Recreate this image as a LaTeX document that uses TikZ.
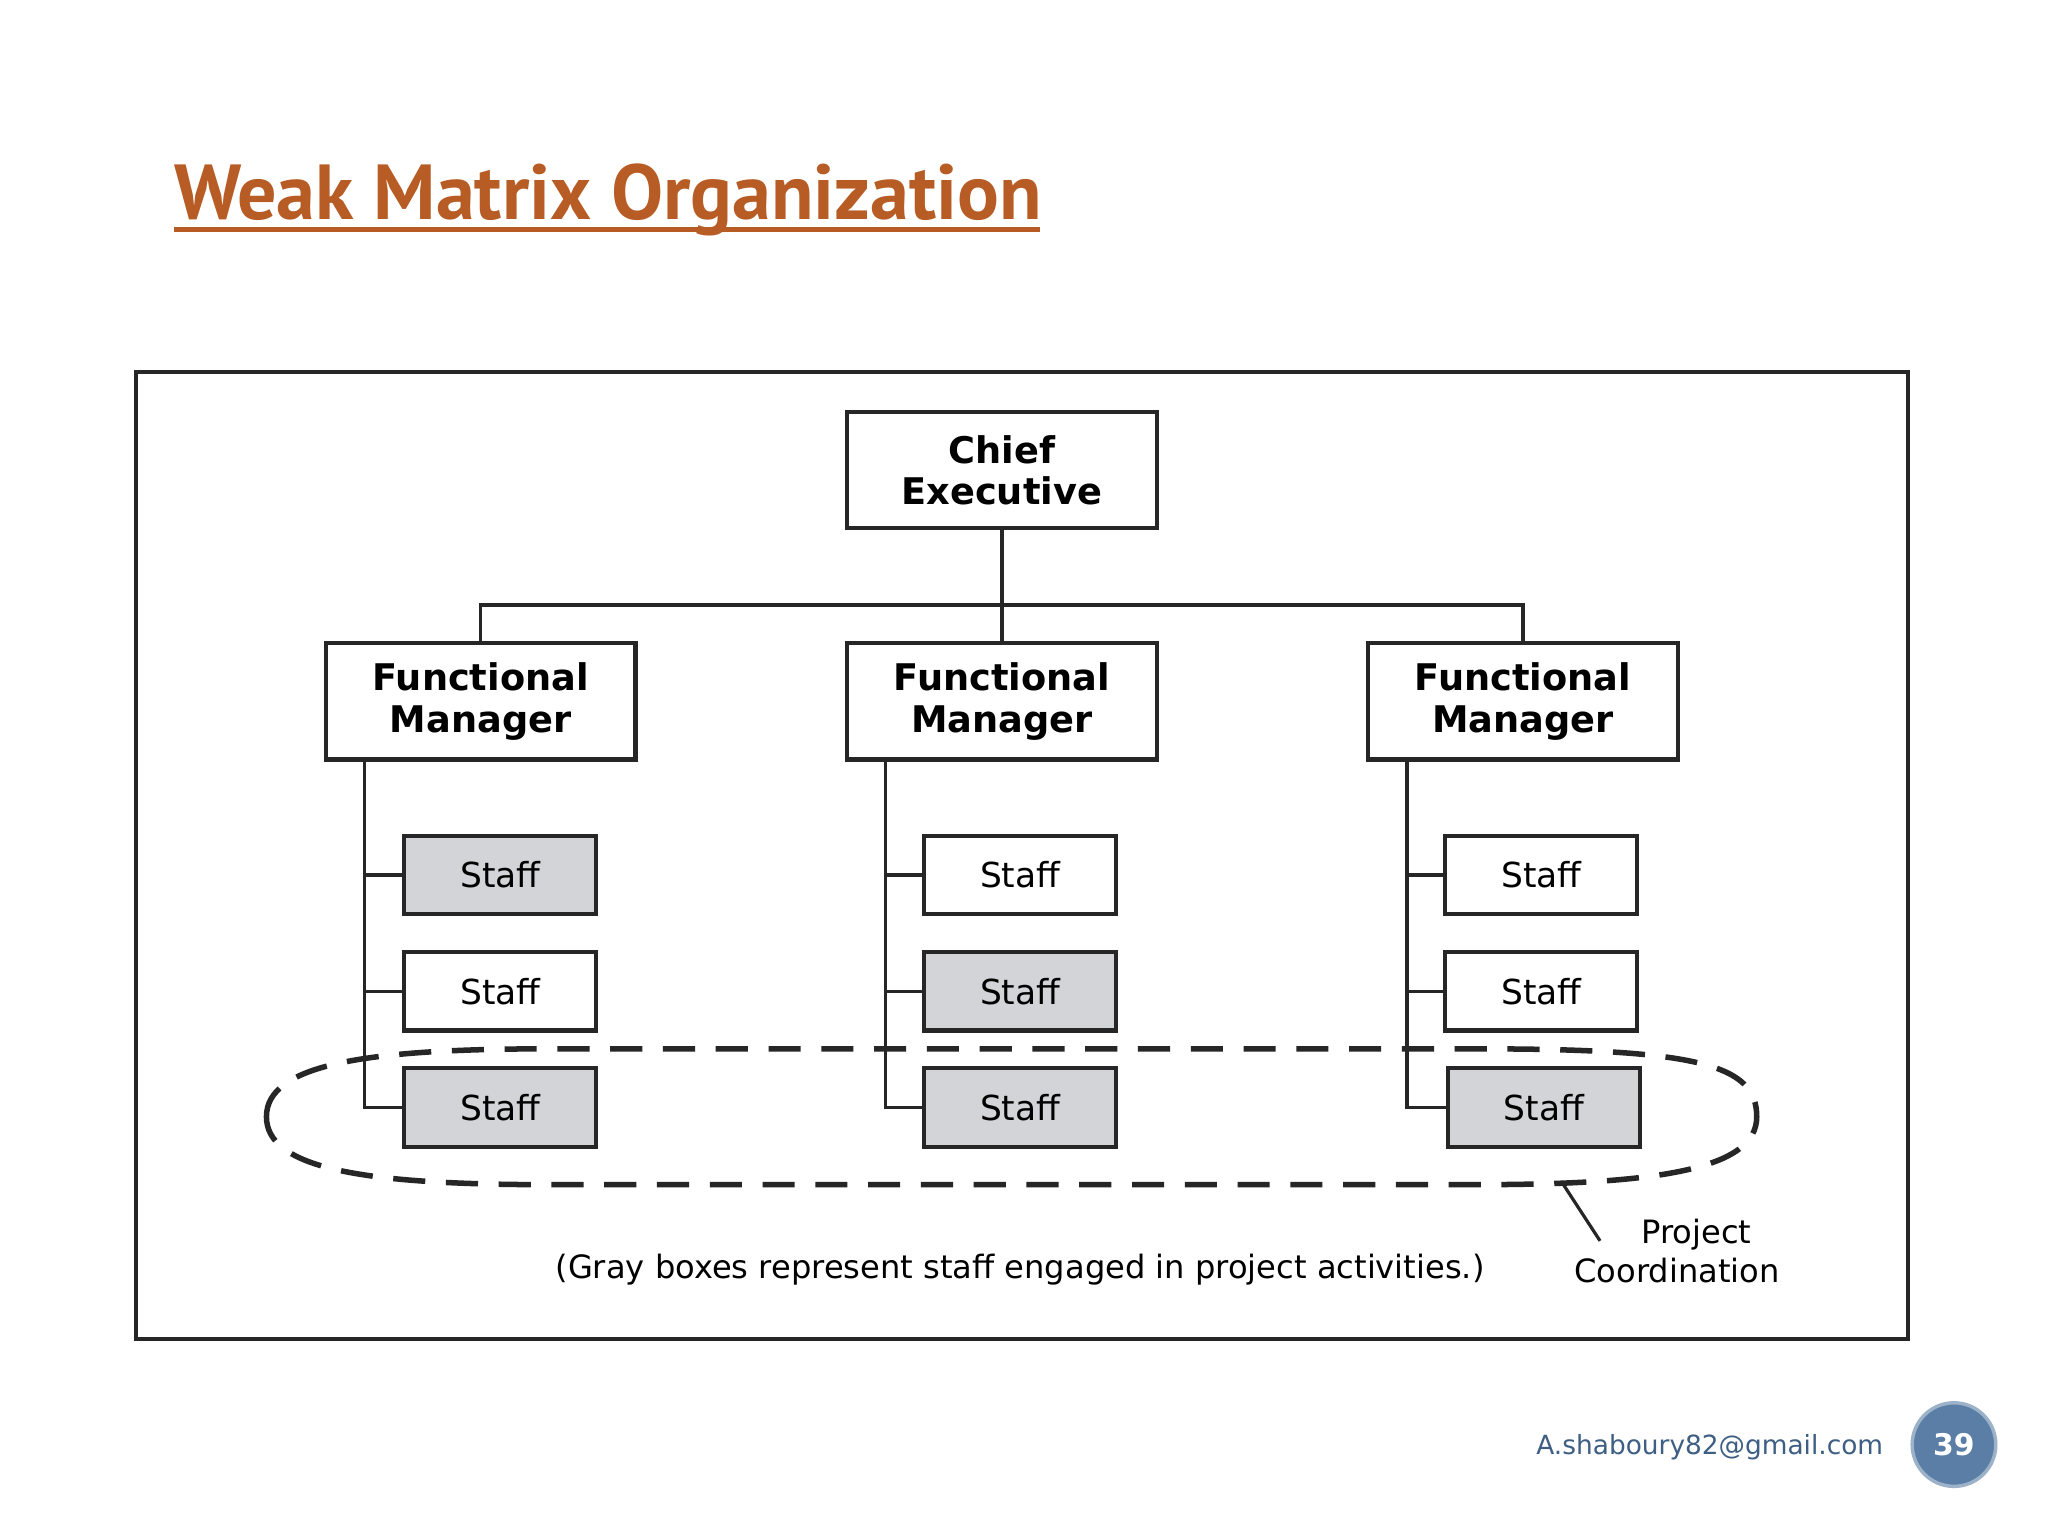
\documentclass[tikz,border=0pt]{standalone}
\usepackage{fontspec}
\setmainfont{DejaVu Sans}
\newfontfamily\titlefont{PT Sans}
\definecolor{titleor}{HTML}{B85C25}
\definecolor{staffgray}{HTML}{D3D4D8}
\definecolor{circblue}{HTML}{5A7EA5}
\definecolor{mailblue}{HTML}{3E5F83}
\tikzset{
  mgr/.style={draw=black!85,line width=1.8pt,minimum width=237*0.02cm,minimum height=89*0.02cm,align=center,font=\bfseries\fontsize{16}{18}\selectfont,inner sep=0pt},
  staffbox/.style={draw=black!85,line width=1.8pt,minimum width=147*0.02cm,minimum height=60*0.02cm,font=\fontsize{15}{17}\selectfont,inner sep=0pt,fill=white},
  grayst/.style={staffbox,fill=staffgray},
  wire/.style={draw=black!85,line width=1.6pt}
}
\begin{document}
\begin{tikzpicture}[x=0.02cm,y=-0.02cm]
\useasboundingbox (0,0) rectangle (1568,1176);
\fill[white] (0,0) rectangle (1568,1176);
\node[anchor=base west,text=titleor,font=\titlefont\bfseries\fontsize{34}{40}\selectfont,inner sep=0pt] (title) at (133,168) {Weak Matrix Organization};
\draw[titleor,line width=2.2pt] (133,176) -- (796,176);
\draw[black!85,line width=1.8pt] (104,285) rectangle (1461,1025);
\draw[black!85,line width=2.4pt,dash pattern=on 14pt off 9pt]
  (204,855) .. controls (204,815) and (280,803) .. (420,803) -- (1130,803)
  .. controls (1300,803) and (1345,815) .. (1345,855)
  .. controls (1345,895) and (1270,907) .. (1130,907) -- (420,907)
  .. controls (280,907) and (204,895) .. cycle;
\node[mgr] (ce) at (767,360) {Chief\\Executive};
\node[mgr] (f1) at (368,537) {Functional\\Manager};
\node[mgr] (f2) at (767,537) {Functional\\Manager};
\node[mgr] (f3) at (1166,537) {Functional\\Manager};
\coordinate (j) at (767,463);
\draw[wire] (ce.south) -- (j);
\draw[wire] (f1.north) |- (j) -| (f3.north);
\draw[wire] (j) -- (f2.north);
% staff
\node[grayst] (s11) at (383,670) {Staff};
\node[staffbox] (s12) at (383,759) {Staff};
\node[grayst] (s13) at (383,848) {Staff};
\node[staffbox] (s21) at (781,670) {Staff};
\node[grayst] (s22) at (781,759) {Staff};
\node[grayst] (s23) at (781,848) {Staff};
\node[staffbox] (s31) at (1180,670) {Staff};
\node[staffbox] (s32) at (1180,759) {Staff};
\node[grayst] (s33) at (1182,848) {Staff};
\draw[wire] (279,581) |- (s13.west); \draw[wire] (279,670) -- (s11.west); \draw[wire] (279,759) -- (s12.west);
\draw[wire] (678,581) |- (s23.west); \draw[wire] (678,670) -- (s21.west); \draw[wire] (678,759) -- (s22.west);
\draw[wire] (1077,581) |- (s33.west); \draw[wire] (1077,670) -- (s31.west); \draw[wire] (1077,759) -- (s32.west);
\coordinate (lk) at (1197,907);
\node[font=\fontsize{14}{17}\selectfont,align=center,inner sep=0pt] (pc) at (1284,958) {\hspace*{1.2em}Project\\Coordination};
\draw[black!85,line width=1.4pt] (lk) -- (1225,950);
\node[font=\fontsize{14}{17}\selectfont,inner sep=0pt] (cap) at (781,972) {(Gray boxes represent staff engaged in project activities.)};
\node[text=mailblue,font=\fontsize{11.5}{13}\selectfont,inner sep=0pt] (mail) at (1309,1108) {A.shaboury82@gmail.com};
\node[circle,fill=circblue,draw=circblue!60,line width=1.5pt,minimum size=64*0.02cm,text=white,font=\bfseries\fontsize{13}{15}\selectfont] (pg) at (1496,1106) {39};
\end{tikzpicture}
\end{document}
